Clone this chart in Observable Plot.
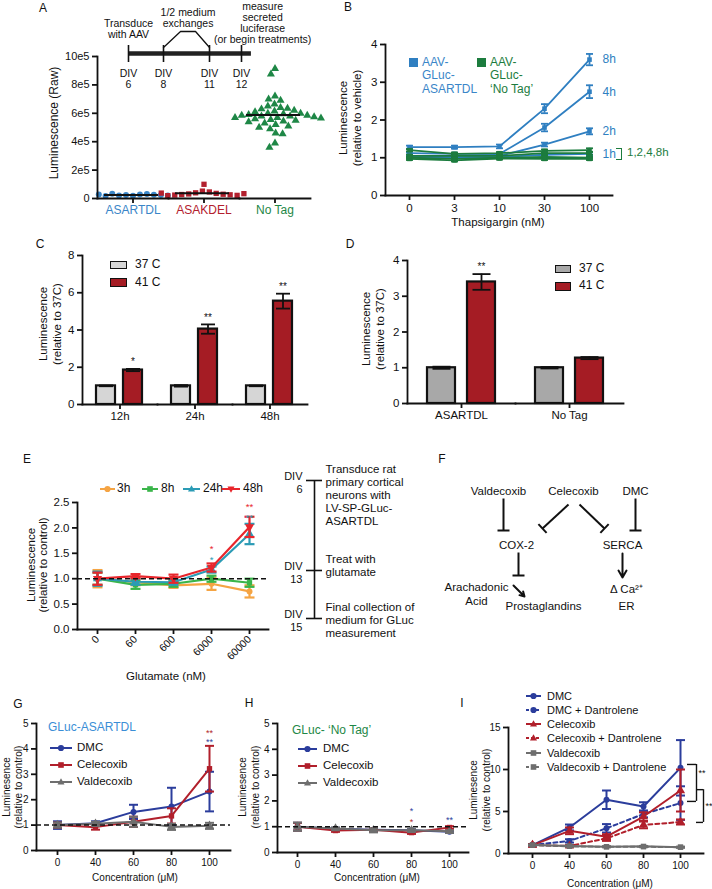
<!DOCTYPE html>
<html><head><meta charset="utf-8">
<script src="https://cdn.jsdelivr.net/npm/d3@7"></script>
<script src="https://cdn.jsdelivr.net/npm/@observablehq/plot@0.6"></script>
<style>
html,body{margin:0;padding:0;background:#fff;}
#root{position:relative;width:712px;height:889px;overflow:hidden;background:#fff;font-family:'Liberation Sans',Arial,Helvetica,sans-serif;color:#111;}
.t{position:absolute;white-space:nowrap;line-height:1.15;}
#root svg{overflow:visible;}
</style></head>
<body><div id="root"></div>
<script>
// ================= DATA =================
// Panel A (raw luminescence per well)
const aGroups = ["ASARTDL", "ASAKDEL", "No Tag"];
const aAsartdl = [2.0e4, 2.4e4, 2.8e4, 3.1e4, 2.2e4, 2.6e4, 3.4e4, 1.8e4, 2.5e4, 2.9e4, 2.1e4];
const aAsakdel = [10.0e4, 5.2e4, 4.6e4, 4.0e4, 3.6e4, 3.2e4, 3.0e4, 2.8e4, 2.6e4, 2.4e4, 2.2e4, 2.0e4, 3.4e4, 3.8e4];
const aNoTag = [9.15e5, 8.75e5, 7.2e5, 7.0e5, 6.9e5, 6.65e5, 6.5e5, 6.4e5, 6.35e5, 6.3e5, 6.2e5, 6.15e5, 6.1e5, 6.0e5, 6.0e5, 5.95e5, 5.9e5, 5.85e5, 5.85e5, 5.8e5, 5.8e5, 5.75e5, 5.7e5, 5.7e5, 5.65e5, 5.6e5, 5.55e5, 5.5e5, 5.45e5, 5.4e5, 5.3e5, 5.2e5, 5.1e5, 5.0e5, 4.9e5, 4.6e5, 4.55e5, 3.9e5, 3.6e5];
const aYTicks = [0, 2e5, 4e5, 6e5, 8e5, 1e6];
const aYTickLabels = ["0", "2e5", "4e5", "6e5", "8e5", "10e5"];
const aTimelineDays = [6, 8, 11, 12];
const aTimelineLabels = ["DIV\n6", "DIV\n8", "DIV\n11", "DIV\n12"];
const aTimelineNotes = ["Transduce\nwith AAV", "1/2 medium\nexchanges", "measure\nsecreted\nluciferase\n(or begin treatments)"];

// Panel B (thapsigargin)
const bConc = ["0", "3", "10", "30", "100"];
const bAsartdl1h = [1.02, 1.00, 1.02, 1.08, 1.10], bAsartdl1hErr = [0.03, 0.03, 0.03, 0.03, 0.04];
const bAsartdl2h = [1.05, 1.02, 1.05, 1.35, 1.70], bAsartdl2hErr = [0.03, 0.03, 0.03, 0.05, 0.08];
const bAsartdl4h = [1.12, 1.10, 1.10, 1.80, 2.75], bAsartdl4hErr = [0.03, 0.03, 0.04, 0.10, 0.17];
const bAsartdl8h = [1.28, 1.28, 1.30, 2.30, 3.60], bAsartdl8hErr = [0.04, 0.04, 0.05, 0.12, 0.15];
const bNoTag1h = [0.97, 0.93, 0.98, 0.97, 0.97], bNoTag1hErr = [0.03, 0.03, 0.03, 0.03, 0.03];
const bNoTag2h = [1.00, 0.97, 1.00, 1.02, 1.00], bNoTag2hErr = [0.03, 0.03, 0.03, 0.03, 0.03];
const bNoTag4h = [1.05, 1.05, 1.05, 1.12, 1.12], bNoTag4hErr = [0.03, 0.03, 0.03, 0.03, 0.04];
const bNoTag8h = [1.20, 1.10, 1.12, 1.18, 1.20], bNoTag8hErr = [0.03, 0.04, 0.03, 0.04, 0.05];

// Panel C (heat shock, time)
const cTimes = ["12h", "24h", "48h"];
const cTemps = ["37 C", "41 C"];
const c37 = [1.0, 1.0, 1.0], c37Err = [0.02, 0.04, 0.02];
const c41 = [1.85, 4.05, 5.55], c41Err = [0.06, 0.25, 0.40];
const cStars = ["*", "**", "**"];

// Panel D (heat shock, constructs)
const dGroups = ["ASARTDL", "No Tag"];
const d37 = [1.0, 1.0], d37Err = [0.03, 0.02];
const d41 = [3.40, 1.27], d41Err = [0.22, 0.03];
const dStars = ["**", ""];

// Panel E (glutamate)
const eConc = ["0", "60", "600", "6000", "60000"];
const e3h = [1.0, 0.93, 0.87, 0.90, 0.75], e3hErr = [0.17, 0.06, 0.05, 0.12, 0.12];
const e8h = [1.0, 0.88, 0.90, 1.00, 0.92], e8hErr = [0.12, 0.08, 0.06, 0.06, 0.08];
const e24h = [1.0, 0.94, 0.93, 1.18, 1.88], e24hErr = [0.14, 0.06, 0.05, 0.06, 0.20];
const e48h = [1.0, 1.05, 1.00, 1.22, 2.02], e48hErr = [0.12, 0.04, 0.08, 0.08, 0.20];
const eStarConc = ["6000", "6000", "60000", "60000"];
const eStarY = [1.64, 1.43, 2.47, 2.26];
const eStarText = ["*", "*", "**", "**"];
const eStarSeries = ["48h", "24h", "48h", "24h"];
const eTimelineDays = [6, 13, 15];
const eTimelineLabels = ["DIV\n6", "DIV\n13", "DIV\n15"];
const eTimelineSteps = ["Transduce rat\nprimary cortical\nneurons with\nLV-SP-GLuc-\nASARTDL", "Treat with\nglutamate", "Final collection of\nmedium for GLuc\nmeasurement"];

// Panel F (pathway diagram nodes and edges, diagram units)
const fNodes = [
  {label: "Valdecoxib", x: 58, y: 50}, {label: "Celecoxib", x: 133, y: 50}, {label: "DMC", x: 195, y: 50},
  {label: "COX-2", x: 76, y: 104}, {label: "SERCA", x: 182, y: 104},
  {label: "Arachadonic\nAcid", x: 36, y: 153}, {label: "Prostaglandins", x: 103, y: 165},
  {label: "\u0394 Ca\u00b2\u207a", x: 186, y: 148}, {label: "ER", x: 186, y: 165}
];
const fInhibit = [
  {x1: 63, y1: 58, x2: 63, y2: 90}, {x1: 128, y1: 64, x2: 102, y2: 88},
  {x1: 139, y1: 64, x2: 164, y2: 88}, {x1: 195, y1: 58, x2: 195, y2: 90},
  {x1: 78, y1: 112, x2: 78, y2: 135}
];
const fActivate = [{x1: 73, y1: 145, x2: 84, y2: 156}, {x1: 182, y1: 113, x2: 182, y2: 137}];

// Panels G, H, I (concentration in uM)
const gConc = ["0", "40", "60", "80", "100"];
const gDMC = [1.0, 1.07, 1.52, 1.73, 2.32], gDMCErr = [0.15, 0.08, 0.28, 0.74, 0.78];
const gCel = [1.0, 0.92, 1.13, 1.36, 3.22], gCelErr = [0.10, 0.10, 0.20, 0.30, 0.90];
const gVal = [1.0, 1.05, 1.13, 0.93, 0.97], gValErr = [0.10, 0.08, 0.20, 0.12, 0.12];
const gStarConc = ["100", "100"], gStarY = [4.74, 4.38], gStarText = ["**", "**"], gStarSeries = ["Celecoxib", "DMC"];

const hDMC = [1.0, 0.92, 0.88, 0.86, 0.80], hDMCErr = [0.15, 0.04, 0.04, 0.04, 0.04];
const hCel = [1.0, 0.85, 0.88, 0.77, 0.97], hCelErr = [0.15, 0.05, 0.04, 0.05, 0.05];
const hVal = [1.0, 0.93, 0.86, 0.86, 0.82], hValErr = [0.16, 0.04, 0.08, 0.04, 0.04];
const hStarConc = ["80", "80", "100"], hStarY = [1.72, 1.30, 1.36], hStarText = ["*", "*", "**"], hStarSeries = ["DMC", "Celecoxib", "DMC"];

const iDMC = [1.0, 3.1, 6.4, 5.6, 10.2], iDMCErr = [0.1, 0.35, 1.1, 0.5, 3.3];
const iDMCDan = [1.0, 1.5, 3.0, 4.7, 6.0], iDMCDanErr = [0.1, 0.2, 0.5, 0.4, 2.0];
const iCel = [1.0, 2.7, 2.0, 4.4, 7.5], iCelErr = [0.1, 0.4, 0.3, 0.5, 2.5];
const iCelDan = [1.0, 0.9, 1.8, 3.4, 3.75], iCelDanErr = [0.1, 0.1, 0.3, 0.4, 0.3];
const iVal = [1.0, 0.9, 0.8, 0.85, 0.75], iValErr = [0.05, 0.05, 0.05, 0.05, 0.05];
const iValDan = [1.0, 0.85, 0.8, 0.8, 0.75], iValDanErr = [0.05, 0.05, 0.05, 0.05, 0.05];
const iBrackets = [{y1: 6.2, y2: 10.6, label: "**"}, {y1: 3.7, y2: 7.6, label: "**"}];

// ================= COLORS =================
const BLUE_B = "#2f7fc1", GREEN_B = "#1c7c3e";
const A_COLORS = ["#3a86c8", "#b3202e", "#1e8746"];
const A_SYMBOLS = ["circle", "square", "triangle"];
const GREY_C = "#d6d6d6", GREY_D = "#a8a8a8", RED_CD = "#a51c24";
const E_COLORS = {"3h": "#f5a443", "8h": "#3ab54a", "24h": "#2b9bb5", "48h": "#e8262c"};
const C_DMC = "#2b3d9c", C_CEL = "#b11f2b", C_VAL = "#6e6e6e";
const G_COLORS = {"DMC": C_DMC, "Celecoxib": C_CEL, "Valdecoxib": C_VAL};

// ================= HELPERS =================
const root = document.getElementById("root");
const FONT = "'Liberation Sans', Arial, Helvetica, sans-serif";
const st = fs => ({fontFamily: FONT, fontSize: fs + "px", background: "transparent", overflow: "visible", color: "#111"});
function place(el, left, top) {
  el.style.position = "absolute"; el.style.left = left + "px"; el.style.top = top + "px"; el.style.maxWidth = "none";
  root.appendChild(el); return el;
}
function txt(html, x, y, o = {}) {
  const d = document.createElement("div");
  d.className = "t"; d.innerHTML = html;
  d.style.left = x + "px"; d.style.top = y + "px";
  d.style.fontSize = (o.size || 11) + "px";
  if (o.color) d.style.color = o.color;
  if (o.lh) d.style.lineHeight = o.lh + "px";
  const a = o.anchor || "middle";
  d.style.textAlign = a === "start" ? "left" : a === "end" ? "right" : "center";
  const tx = a === "start" ? "0" : a === "end" ? "-100%" : "-50%";
  d.style.transform = `translate(${tx},-50%)` + (o.rotate ? ` rotate(${o.rotate}deg)` : "");
  root.appendChild(d); return d;
}
function swatch(x1, x2, y, color, symbol, dash, rot) {
  const w = x2 - x1 + 10, cx = w / 2;
  let m;
  if (symbol === "circle") m = `<circle cx="${cx}" cy="6" r="3.1" fill="${color}"/>`;
  else if (symbol === "square") m = `<rect x="${cx - 2.8}" y="3.2" width="5.6" height="5.6" fill="${color}"/>`;
  else m = `<path d="M${cx},2.2L${cx + 3.5},8.4L${cx - 3.5},8.4Z" fill="${color}" transform="rotate(${rot || 0} ${cx} 6)"/>`;
  const d = document.createElement("div");
  d.style.position = "absolute"; d.style.left = (x1 - 5) + "px"; d.style.top = (y - 6) + "px"; d.style.lineHeight = "0";
  d.innerHTML = `<svg xmlns="http://www.w3.org/2000/svg" width="${w}" height="12"><line x1="5" x2="${w - 5}" y1="6" y2="6" stroke="${color}" stroke-width="2" ${dash ? `stroke-dasharray="${dash}"` : ""}/>${m}</svg>`;
  root.appendChild(d);
}
function box(x, y, w, h, fill, border) {
  const d = document.createElement("div");
  d.style.cssText = `position:absolute;left:${x}px;top:${y}px;width:${w}px;height:${h}px;background:${fill};box-sizing:border-box;border:${border || "none"}`;
  root.appendChild(d); return d;
}
// horizontal error-bar cap drawn as a symbol
const capSym = {draw(ctx, size) { const w = Math.sqrt(size / Math.PI); ctx.moveTo(-w, 0); ctx.lineTo(w, 0); }};
function seriesMarks(xs, s, o = {}) {
  const sw = o.sw ?? 1.8, cap = o.cap ?? 4;
  const rows = xs.map((x, i) => ({x, y: s.values[i], e: s.errors ? s.errors[i] : 0}));
  const er = rows.filter(d => d.e > 0);
  return [
    Plot.line(rows, {x: "x", y: "y", stroke: s.color, strokeWidth: sw, strokeDasharray: s.dash}),
    Plot.ruleX(er, {x: "x", y1: d => d.y - d.e, y2: d => d.y + d.e, stroke: s.color, strokeWidth: sw}),
    Plot.dot(er, {x: "x", y: d => d.y + d.e, symbol: capSym, r: cap, stroke: s.color, strokeWidth: sw, fill: "none"}),
    Plot.dot(er, {x: "x", y: d => d.y - d.e, symbol: capSym, r: cap, stroke: s.color, strokeWidth: sw, fill: "none"}),
    Plot.dot(rows, {x: "x", y: "y", symbol: s.symbol, r: s.r ?? o.r ?? 3, fill: s.color, stroke: "none", rotate: s.rot || 0})
  ];
}
const axY = (ticks, fs, extra = {}) => Plot.axisY({ticks, tickSize: 5, tickPadding: 3, label: null, strokeWidth: 1.8, stroke: "#111", fontSize: fs, tickFormat: d3.format("d"), ...extra});
const axX = (fs, extra = {}) => Plot.axisX({tickSize: 5, tickPadding: 3, label: null, strokeWidth: 1.8, stroke: "#111", fontSize: fs, ...extra});
const axisLines = (facet) => [
  Plot.frame(facet ? {anchor: "left", strokeWidth: 1.8, stroke: "#111", facetAnchor: "left"} : {anchor: "left", strokeWidth: 1.8, stroke: "#111"}),
  Plot.frame({anchor: "bottom", strokeWidth: 1.8, stroke: "#111"})
];

// ================= PANEL A =================
{
  const raw = [aAsartdl, aAsakdel, aNoTag];
  const means = aGroups.map((g, i) => ({g, m: d3.mean(raw[i])}));
  const svg = Plot.plot({
    width: 320, height: 215, marginLeft: 97, marginRight: 10, marginTop: 56, marginBottom: 17,
    style: st(11),
    fx: {domain: aGroups, padding: 0},
    y: {domain: [0, 1e6]},
    marks: [
      ...aGroups.map((g, i) => Plot.dot(raw[i].map(v => ({g, v})),
        Plot.dodgeX("middle", {fx: "g", y: "v", r: 3, symbol: A_SYMBOLS[i], fill: A_COLORS[i], stroke: "none"}))),
      Plot.ruleY(means, {fx: "g", y: "m", insetLeft: 7, insetRight: 10, strokeWidth: 2, stroke: "#111"}),
      ...axisLines(true),
      axY(aYTicks, 11, {tickFormat: d => aYTickLabels[aYTicks.indexOf(d)]}),
      Plot.axisFx({anchor: "bottom", tickSize: 5, tickPadding: 2, label: null, strokeWidth: 1.8, fontSize: 12})
    ]
  });
  svg.querySelectorAll('[aria-label="fx-axis tick label"] text').forEach(t => {
    const i = aGroups.indexOf(t.textContent); if (i >= 0) t.setAttribute("fill", A_COLORS[i]);
  });
  place(svg, 0, 0);
  // timeline
  const trap = [{d: 8, y: 47}, {d: 9.11, y: 31}, {d: 10.09, y: 31}, {d: 11, y: 47}];
  const tl = Plot.plot({
    width: 320, height: 100, margin: 0, style: st(10.5),
    x: {type: "linear", domain: aTimelineDays, range: [128, 163, 209, 241], axis: null},
    y: {type: "identity", axis: null},
    marks: [
      Plot.ruleY([53], {x1: 6, x2: 12.31, strokeWidth: 4.5, stroke: "#222"}),
      Plot.ruleX(aTimelineDays, {x: d => d, y1: 45, y2: 62, strokeWidth: 1.6}),
      Plot.line(trap, {x: "d", y: "y", strokeWidth: 1.3}),
      Plot.text(aTimelineDays, {x: d => d, y: 78.5, text: (d, i) => aTimelineLabels[i], lineAnchor: "middle", lineHeight: 1.05, fontSize: 10.5}),
      Plot.text(aTimelineNotes, {x: [6, 9.6, 12.66], y: [28.5, 17.5, 22], text: d => d, lineAnchor: "middle", lineHeight: 1.05, fontSize: 10.5})
    ]
  });
  place(tl, 0, 0);
}

// ================= PANEL B =================
{
  const series = [
    {c: "ASARTDL", t: "1h", values: bAsartdl1h, errors: bAsartdl1hErr},
    {c: "ASARTDL", t: "2h", values: bAsartdl2h, errors: bAsartdl2hErr},
    {c: "ASARTDL", t: "4h", values: bAsartdl4h, errors: bAsartdl4hErr},
    {c: "ASARTDL", t: "8h", values: bAsartdl8h, errors: bAsartdl8hErr},
    {c: "No Tag", t: "1h", values: bNoTag1h, errors: bNoTag1hErr},
    {c: "No Tag", t: "2h", values: bNoTag2h, errors: bNoTag2hErr},
    {c: "No Tag", t: "4h", values: bNoTag4h, errors: bNoTag4hErr},
    {c: "No Tag", t: "8h", values: bNoTag8h, errors: bNoTag8hErr}
  ].map(s => ({...s, color: s.c === "ASARTDL" ? BLUE_B : GREEN_B, symbol: "square", r: 2.6}));
  const ends = series.filter(s => s.c === "ASARTDL").map(s => ({t: s.t, y: s.values[4]}));
  const svg = Plot.plot({
    width: 412, height: 232, marginLeft: 85, marginRight: 100, marginTop: 44, marginBottom: 37,
    style: st(11.5),
    x: {type: "point", domain: bConc, padding: 0.52},
    y: {domain: [0, 4]},
    marks: [
      ...series.flatMap(s => seriesMarks(bConc, s, {cap: 3.5, sw: 1.8})),
      Plot.text(ends, {x: () => bConc[4], y: "y", text: "t", dx: 13, textAnchor: "start", fill: BLUE_B, fontSize: 12}),
      ...axisLines(false),
      axX(11.5), axY([0, 1, 2, 3, 4], 11.5)
    ]
  });
  place(svg, 300, 0);
}

// ================= PANELS C & D =================
function barPanel(groups, v37, e37, v41, e41, stars, greyFill, dims, yMax, yTicks, band) {
  const rows = groups.flatMap((g, i) => [
    {g, t: cTemps[0], v: v37[i], e: e37[i]}, {g, t: cTemps[1], v: v41[i], e: e41[i]}]);
  const starRows = groups.map((g, i) => ({g, y: v41[i] + e41[i], s: stars[i]})).filter(d => d.s);
  const svg = Plot.plot({
    width: dims.w, height: dims.h, marginLeft: dims.ml, marginRight: dims.mr, marginTop: dims.mt, marginBottom: dims.mb,
    style: st(11.5),
    fx: {domain: groups, padding: 0},
    x: {domain: cTemps, paddingInner: band.pi, paddingOuter: band.po, axis: null},
    y: {domain: [0, yMax]},
    marks: [
      Plot.barY(rows.filter(d => d.t === cTemps[0]), {fx: "g", x: "t", y: "v", fill: greyFill, stroke: "#111", strokeWidth: 2.2}),
      Plot.barY(rows.filter(d => d.t === cTemps[1]), {fx: "g", x: "t", y: "v", fill: RED_CD, stroke: "#111", strokeWidth: 2.2}),
      Plot.ruleX(rows, {fx: "g", x: "t", y1: d => d.v - d.e, y2: d => d.v + d.e, strokeWidth: 1.8, stroke: "#111"}),
      Plot.dot(rows, {fx: "g", x: "t", y: d => d.v + d.e, symbol: capSym, r: dims.cap, stroke: "#111", strokeWidth: 1.8, fill: "none"}),
      Plot.dot(rows, {fx: "g", x: "t", y: d => d.v - d.e, symbol: capSym, r: dims.cap, stroke: "#111", strokeWidth: 1.8, fill: "none"}),
      Plot.text(starRows, {fx: "g", x: () => cTemps[1], y: "y", text: "s", dy: -7, fontSize: 10}),
      ...axisLines(true),
      axY(yTicks, 11.5),
      Plot.axisFx({anchor: "bottom", tickSize: 5, tickPadding: 2, label: null, strokeWidth: 1.8, fontSize: 11.5})
    ]
  });
  return svg;
}
place(barPanel(cTimes, c37, c37Err, c41, c41Err, cStars, GREY_C,
  {w: 352, h: 190, ml: 82, mr: 45, mt: 23, mb: 18, cap: 7}, 8, [0, 2, 4, 6, 8], {pi: 0.29, po: 0.5}), 0, 232);
place(barPanel(dGroups, d37, d37Err, d41, d41Err, dStars, GREY_D,
  {w: 360, h: 190, ml: 55, mr: 89, mt: 28, mb: 19, cap: 9}, 4, [0, 1, 2, 3, 4], {pi: 0.3, po: 0.5}), 352, 232);

// ================= PANEL E =================
const eSeries = [
  {t: "3h", values: e3h, errors: e3hErr, symbol: "circle"},
  {t: "8h", values: e8h, errors: e8hErr, symbol: "square"},
  {t: "24h", values: e24h, errors: e24hErr, symbol: "triangle", r: 3.4},
  {t: "48h", values: e48h, errors: e48hErr, symbol: "triangle", r: 3.4, rot: 180}
].map(s => ({...s, color: E_COLORS[s.t]}));
{
  const stars = eStarConc.map((x, i) => ({x, y: eStarY[i], s: eStarText[i], c: E_COLORS[eStarSeries[i]]}));
  const svg = Plot.plot({
    width: 290, height: 260, marginLeft: 77, marginRight: 22, marginTop: 72, marginBottom: 61,
    style: st(11.5),
    x: {type: "point", domain: eConc, padding: 0.48},
    y: {domain: [0, 2.5]},
    marks: [
      ...eSeries.flatMap(s => seriesMarks(eConc, s, {cap: 5, sw: 2.2})),
      Plot.ruleY([1], {stroke: "#111", strokeWidth: 1.6, strokeDasharray: "5,3"}),
      ...stars.map(d => Plot.text([d], {x: "x", y: "y", text: "s", fill: d.c, dy: 3, fontSize: 9.5})),
      ...axisLines(false),
      axX(10.5, {tickRotate: -45}),
      axY([0, 0.5, 1, 1.5, 2, 2.5], 11.5, {tickFormat: d3.format(".1f")})
    ]
  });
  place(svg, 0, 430);
  // timeline
  const tl = Plot.plot({
    width: 200, height: 185, margin: 0, style: st(11.5),
    x: {type: "identity", axis: null},
    y: {type: "linear", domain: eTimelineDays, range: [25, 115, 163], axis: null},
    marks: [
      Plot.ruleX([74], {y1: 6, y2: 15, strokeWidth: 1.6}),
      Plot.ruleY(eTimelineDays, {y: d => d, x1: 66, x2: 82, strokeWidth: 1.6}),
      Plot.text(eTimelineDays, {x: 62, y: d => d, text: (d, i) => eTimelineLabels[i], textAnchor: "end", lineAnchor: "middle", dy: 2, lineHeight: 1.12, fontSize: 11}),
      Plot.text(eTimelineDays, {x: 85, y: d => d, text: (d, i) => eTimelineSteps[i], textAnchor: "start", lineAnchor: "top", dy: -17, lineHeight: 1.13, fontSize: 11.5})
    ]
  });
  place(tl, 240, 455);
}

// ================= PANEL F =================
{
  const bars = fInhibit.map(e => {
    const dx = e.x2 - e.x1, dy = e.y2 - e.y1, L = Math.hypot(dx, dy);
    const px = -dy / L * 6, py = dx / L * 6;
    return {x1: e.x2 - px, y1: e.y2 - py, x2: e.x2 + px, y2: e.y2 + py};
  });
  const svg = Plot.plot({
    width: 272, height: 190, margin: 0, style: st(11.5),
    x: {type: "identity", axis: null}, y: {type: "identity", axis: null},
    marks: [
      Plot.link(fInhibit, {x1: "x1", y1: "y1", x2: "x2", y2: "y2", strokeWidth: 2, stroke: "#111"}),
      Plot.link(bars, {x1: "x1", y1: "y1", x2: "x2", y2: "y2", strokeWidth: 2, stroke: "#111"}),
      Plot.arrow(fActivate, {x1: "x1", y1: "y1", x2: "x2", y2: "y2", strokeWidth: 2, stroke: "#111", headLength: 7}),
      Plot.text(fNodes, {x: "x", y: "y", text: "label", fontSize: 11.5, lineHeight: 1.17})
    ]
  });
  place(svg, 440, 440);
}

// ================= PANELS G, H =================
function concPanel(series, yMax, yTicks, stars, dims, padding) {
  const starRows = stars.conc.map((x, i) => ({x, y: stars.y[i], s: stars.text[i], c: G_COLORS[stars.series[i]]}));
  return Plot.plot({
    width: dims.w, height: dims.h, marginLeft: dims.ml, marginRight: dims.mr, marginTop: dims.mt, marginBottom: dims.mb,
    style: st(10),
    x: {type: "point", domain: gConc, padding},
    y: {domain: [0, yMax]},
    marks: [
      ...series.flatMap(s => seriesMarks(gConc, s, {cap: 4.5, sw: 2})),
      Plot.ruleY([1], {stroke: "#111", strokeWidth: 1.5, strokeDasharray: "5,3"}),
      ...starRows.map(d => Plot.text([d], {x: "x", y: "y", text: "s", fill: d.c, dy: 3, fontSize: 9})),
      ...axisLines(false),
      axX(10), axY(yTicks, 10)
    ]
  });
}
const ghSeries = (dmc, dmcE, cel, celE, val, valE) => [
  {name: "DMC", values: dmc, errors: dmcE, color: C_DMC, symbol: "circle"},
  {name: "Celecoxib", values: cel, errors: celE, color: C_CEL, symbol: "square"},
  {name: "Valdecoxib", values: val, errors: valE, color: C_VAL, symbol: "triangle", r: 3.4}
];
place(concPanel(ghSeries(gDMC, gDMCErr, gCel, gCelErr, gVal, gValErr), 5, [0, 1, 2, 3, 4, 5],
  {conc: gStarConc, y: gStarY, text: gStarText, series: gStarSeries},
  {w: 235, h: 199, ml: 36, mr: 5, mt: 33, mb: 39}, 0.536), 0, 690);
place(concPanel(ghSeries(hDMC, hDMCErr, hCel, hCelErr, hVal, hValErr), 5, [0, 1, 2, 3, 4, 5],
  {conc: hStarConc, y: hStarY, text: hStarText, series: hStarSeries},
  {w: 235, h: 199, ml: 42, mr: 2, mt: 33, mb: 37}, 0.48), 235, 690);

// ================= PANEL I =================
{
  const iSeries = [
    {name: "DMC", values: iDMC, errors: iDMCErr, color: C_DMC, symbol: "circle"},
    {name: "DMC + Dantrolene", values: iDMCDan, errors: iDMCDanErr, color: C_DMC, symbol: "circle", dash: "4,3"},
    {name: "Celecoxib", values: iCel, errors: iCelErr, color: C_CEL, symbol: "triangle", r: 3.4},
    {name: "Celecoxib + Dantrolene", values: iCelDan, errors: iCelDanErr, color: C_CEL, symbol: "triangle", r: 3.4, dash: "4,3"},
    {name: "Valdecoxib", values: iVal, errors: iValErr, color: C_VAL, symbol: "square"},
    {name: "Valdecoxib + Dantrolene", values: iValDan, errors: iValDanErr, color: C_VAL, symbol: "square", dash: "4,3"}
  ];
  const last = gConc[4];
  const b0 = iBrackets[0], b1 = iBrackets[1];
  const svg = Plot.plot({
    width: 242, height: 199, marginLeft: 38, marginRight: 9, marginTop: 37, marginBottom: 36,
    style: st(10),
    x: {type: "point", domain: gConc, padding: 0.566},
    y: {domain: [0, 15]},
    marks: [
      ...iSeries.flatMap(s => seriesMarks(gConc, s, {cap: 4.5, sw: 2})),
      // significance brackets
      Plot.ruleX([b0], {x: () => last, y1: "y1", y2: "y2", dx: 16, strokeWidth: 1.4}),
      Plot.ruleY([b0.y1, b0.y2], {x1: () => last, x2: () => last, insetLeft: 7, insetRight: -16, strokeWidth: 1.4}),
      Plot.ruleX([b1], {x: () => last, y1: "y1", y2: "y2", dx: 23, strokeWidth: 1.4}),
      Plot.ruleY([b1.y1, b1.y2], {x1: () => last, x2: () => last, insetLeft: 16, insetRight: -23, strokeWidth: 1.4}),
      Plot.text([b0], {x: () => last, y: d => (d.y1 + d.y2) / 2 + 1.2, text: "label", dx: 18, textAnchor: "start", fontSize: 9}),
      Plot.text([b1], {x: () => last, y: d => (d.y1 + d.y2) / 2, text: "label", dx: 25, textAnchor: "start", fontSize: 9}),
      ...axisLines(false),
      axX(10), axY([0, 5, 10, 15], 10)
    ]
  });
  place(svg, 470, 690);
  // legend
  const ly = [696, 710, 724, 738, 753, 767];
  iSeries.forEach((s, i) => {
    swatch(526, 541, ly[i], s.color, s.symbol, s.dash ? "3,2" : null);
    txt(s.name, 547, ly[i], {size: 11, anchor: "start"});
  });
}

// ================= HTML TEXT: letters, axis titles, legends =================
const letters = [["A", 43, 9], ["B", 348, 8], ["C", 40, 245], ["D", 350, 245], ["E", 27, 460], ["F", 442, 460], ["G", 18, 705], ["H", 249, 704], ["I", 462, 704]];
letters.forEach(([l, x, y]) => txt(l, x, y, {size: 12}));

txt("Luminescence (Raw)", 55, 123, {size: 12, rotate: -90});
txt("Luminescence<br>(relative to vehicle)", 350, 118, {size: 11.5, rotate: -90, lh: 14});
txt("Luminescence<br>(relative to 37C)", 50, 324, {size: 11.5, rotate: -90, lh: 14});
txt("Luminescence<br>(relative to 37C)", 373, 329, {size: 11.5, rotate: -90, lh: 14});
txt("Luminescence<br>(relative to control)", 37, 565, {size: 11.5, rotate: -90, lh: 12});
txt("Luminesence<br>(relative to control)", 13, 787, {size: 10, rotate: -90, lh: 12});
txt("Luminesence<br>(relative to control)", 249, 787, {size: 10, rotate: -90, lh: 13});
txt("Luminesence<br>(relative to control)", 480, 790, {size: 10, rotate: -90, lh: 13});

txt("Thapsigargin (nM)", 498, 223, {size: 11.5});
txt("Glutamate (nM)", 166, 677, {size: 11.5});
txt("Concentration (\u03bcM)", 135, 878, {size: 10});
txt("Concentration (\u03bcM)", 377, 878, {size: 10});
txt("Concentration (\u03bcM)", 610, 884, {size: 10});

// Panel B legend
box(409, 58, 9, 9, BLUE_B);
txt("AAV-<br>GLuc-<br>ASARTDL", 422, 75.5, {size: 12, anchor: "start", color: "#3a86c8", lh: 13.5});
box(477, 58, 9, 9, GREEN_B);
txt("AAV-<br>GLuc-<br>\u2018No Tag\u2019", 490, 75.5, {size: 12, anchor: "start", color: GREEN_B, lh: 13.5});
const br = box(616, 148, 6, 12, "transparent", "none");
br.style.borderTop = br.style.borderRight = br.style.borderBottom = "1.5px solid " + GREEN_B;
txt("1,2,4,8h", 627, 153, {size: 11.5, anchor: "start", color: GREEN_B});

// Panel C / D legends
box(110, 261, 17, 8, GREY_C, "1.5px solid #111");
box(110, 278, 17, 9, RED_CD, "1.5px solid #111");
txt("37 C", 135, 265, {size: 12, anchor: "start"});
txt("41 C", 135, 283, {size: 12, anchor: "start"});
box(555, 265, 16, 8, GREY_D, "1.5px solid #111");
box(555, 282, 16, 9, RED_CD, "1.5px solid #111");
txt("37 C", 579, 269, {size: 12, anchor: "start"});
txt("41 C", 579, 286, {size: 12, anchor: "start"});

// Panel E legend
const eLeg = [[100, 115, 117], [142, 158, 161], [183, 200, 203], [222, 240, 243]];
eSeries.forEach((s, i) => {
  swatch(eLeg[i][0], eLeg[i][1], 489, s.color, s.symbol, null, s.rot);
  txt(s.t, eLeg[i][2], 489, {size: 12, anchor: "start"});
});

// Panel G / H titles and legends
txt("GLuc-ASARTDL", 48, 728, {size: 12, anchor: "start", color: "#3a8ed6"});
txt("GLuc- \u2018No Tag\u2019", 292, 731, {size: 12, anchor: "start", color: "#1e8746"});
const ghNames = ["DMC", "Celecoxib", "Valdecoxib"], ghSyms = ["circle", "square", "triangle"], ghY = [748, 765, 782];
ghNames.forEach((n, i) => {
  swatch(50, 72, ghY[i], G_COLORS[n], ghSyms[i]);
  txt(n, 77, ghY[i], {size: 11.5, anchor: "start"});
  swatch(298, 317, ghY[i] + 1, G_COLORS[n], ghSyms[i]);
  txt(n, 323, ghY[i] + 1, {size: 11.5, anchor: "start"});
});
</script></body></html>
